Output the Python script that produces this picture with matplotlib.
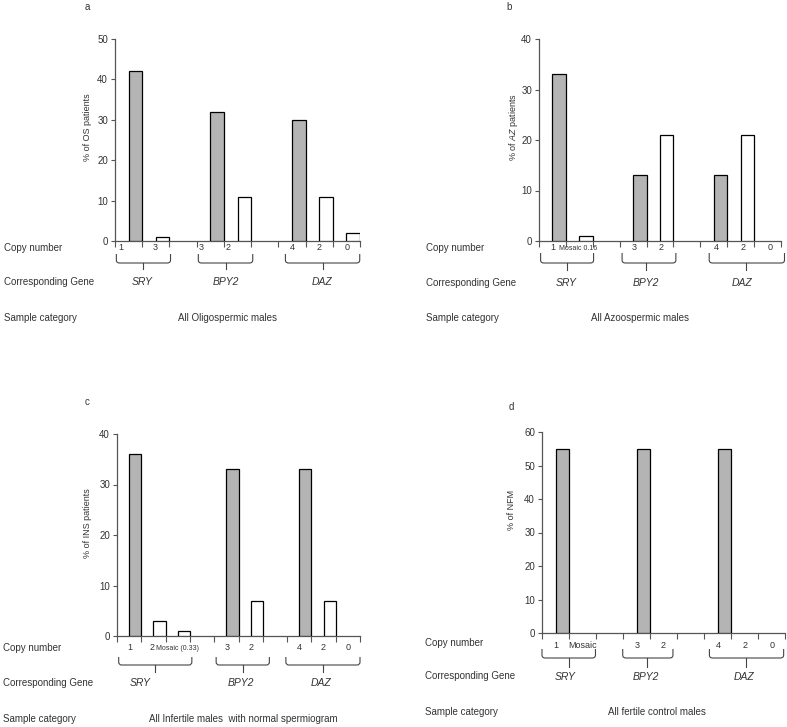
import matplotlib
matplotlib.use("Agg")
import matplotlib.pyplot as plt
from matplotlib.transforms import blended_transform_factory
from matplotlib.path import Path
from matplotlib.patches import PathPatch

plt.rcParams['font.family'] = ['Liberation Sans', 'DejaVu Sans']
plt.rcParams['mathtext.fontset'] = 'custom'
plt.rcParams['mathtext.it'] = 'Liberation Sans:italic'
plt.rcParams['mathtext.rm'] = 'Liberation Sans'

W, H = 787, 727

# ---------------- data ----------------
genes = ['SRY', 'BPY2', 'DAZ']

a_copy = [['1', '3'], ['3', '2'], ['4', '2', '0']]
a_vals = [[42, 1], [32, 11], [30, 11, 2]]

b_copy = [['1', 'Mosaic 0.16'], ['3', '2'], ['4', '2', '0']]
b_vals = [[33, 1], [13, 21], [13, 21, 0]]

c_copy = [['1', '2', 'Mosaic (0.33)'], ['3', '2'], ['4', '2', '0']]
c_vals = [[36, 3, 1], [33, 7], [33, 7, 0]]

d_copy = [['1', 'Mosaic'], ['3', '2'], ['4', '2', '0']]
d_vals = [[55, 0], [55, 0], [55, 0, 0]]

panels = [
    dict(letter='a', copy=a_copy, vals=a_vals, ylim=50, yticks=[0, 10, 20, 30, 40, 50],
         ylabel='% of OS patients', sample='All Oligospermic males'),
    dict(letter='b', copy=b_copy, vals=b_vals, ylim=40, yticks=[0, 10, 20, 30, 40],
         ylabel='% of $\\mathit{AZ}$ patients', sample='All Azoospermic males'),
    dict(letter='c', copy=c_copy, vals=c_vals, ylim=40, yticks=[0, 10, 20, 30, 40],
         ylabel='% of INS patients', sample='All Infertile males  with normal spermiogram'),
    dict(letter='d', copy=d_copy, vals=d_vals, ylim=60, yticks=[0, 10, 20, 30, 40, 50, 60],
         ylabel='% of NFM', sample='All fertile control males'),
]

# ---------------- layout (pixels) ----------------
layout = {
    'a': dict(ax=(115, 360, 39, 241), letter=(87, 7), rowx=4, rowy=(248, 282, 318),
              ylab=(88, 127), sample=(227, 318),
              copyx=[[0.21, 1.48], [3.15, 4.14], [6.5, 7.5, 8.52]], copyy=248,
              brace=[(0.05, 2.04, 1.02), (3.06, 5.06, 4.07), (6.26, 8.99, 7.63)],
              bracey=(254, 263, 269), genex=[0.99, 4.07, 7.62], geney=282),
    'b': dict(ax=(539, 781, 39, 241), letter=(509, 7), rowx=426, rowy=(248, 283, 318),
              ylab=(514, 127), sample=(640, 318),
              copyx=[[0.5, 1.47], [3.55, 4.55], [6.58, 7.58, 8.58]], copyy=248,
              brace=[(0.06, 2.03, 1.03), (3.09, 5.09, 3.99), (6.33, 9.13, 7.71)],
              bracey=(253, 263, 270), genex=[1.02, 3.99, 7.54], geney=283),
    'c': dict(ax=(117, 360, 434, 636), letter=(87, 402), rowx=3, rowy=(648, 683, 719),
              ylab=(88, 523), sample=(243, 719),
              copyx=[[0.52, 1.44, 2.5], [4.52, 5.51], [7.5, 8.49, 9.52]], copyy=648,
              brace=[(0.07, 3.08, 1.58), (4.08, 6.27, 5.18), (6.95, 10.0, 8.47)],
              bracey=(657, 665, 672), genex=[0.96, 5.1, 8.38], geney=683),
    'd': dict(ax=(542, 785, 432, 633), letter=(511, 407), rowx=425, rowy=(643, 676, 712),
              ylab=(511, 510), sample=(657, 712),
              copyx=[[0.52, 1.5], [3.52, 4.5], [6.52, 7.53, 8.52]], copyy=646,
              brace=[(0.0, 1.98, 1.01), (2.99, 4.85, 3.89), (6.2, 8.95, 7.57)],
              bracey=(649, 658, 667), genex=[0.86, 3.86, 7.47], geney=677),
}

GRAY = '#b4b4b4'
AXC = '#555555'
TXT = '#333333'

fig = plt.figure(figsize=(W / 100, H / 100), dpi=100)
fig.patch.set_facecolor('white')


def fy(y):
    return 1 - y / H


def fx(x):
    return x / W


for p in panels:
    L = layout[p['letter']]
    x0, x1, yt, yb = L['ax']
    ax = fig.add_axes([fx(x0), fy(yb), fx(x1) - fx(x0), fy(yt) - fy(yb)])

    # slot positions: each gene group followed by one empty slot (except last)
    slot = 0
    for gi, vals in enumerate(p['vals']):
        for j, v in enumerate(vals):
            if v > 0:
                ax.bar(slot + 0.75, v, width=0.5, color=GRAY if j == 0 else 'white',
                       edgecolor='black', linewidth=0.9, zorder=3)
            slot += 1
        if gi < len(p['vals']) - 1:
            slot += 1
    nslots = slot

    ax.set_xlim(0, nslots)
    ax.set_ylim(0, p['ylim'])
    ax.set_xticks(range(0, nslots + 1))
    ax.set_xticklabels([])
    ax.set_yticks(p['yticks'])
    ax.tick_params(axis='x', direction='out', length=4, width=0.8, color=AXC)
    ax.tick_params(axis='y', direction='out', length=3, width=0.8, color=AXC,
                   labelsize=7, labelcolor=TXT, pad=2)
    for s in ['top', 'right']:
        ax.spines[s].set_visible(False)
    for s in ['left', 'bottom']:
        ax.spines[s].set_color(AXC)
        ax.spines[s].set_linewidth(0.9)
    ax.patch.set_alpha(0)

    tr = blended_transform_factory(ax.transData, fig.transFigure)

    # copy number labels
    for gi, labs in enumerate(p['copy']):
        for j, lab in enumerate(labs):
            fs = 5 if len(lab) > 6 else 6.5
            ax.text(L['copyx'][gi][j], fy(L['copyy']), lab, transform=tr,
                    ha='center', va='center', fontsize=fs, color=TXT)

    # braces
    btop, bbot, btick = L['bracey']
    for (bx0, bx1, bxc) in L['brace']:
        r = 0.12
        verts = [(bx0, fy(btop)), (bx0, fy(bbot) + 0.004), (bx0, fy(bbot)), (bx0 + r, fy(bbot)),
                 (bx1 - r, fy(bbot)), (bx1, fy(bbot)), (bx1, fy(bbot) + 0.004), (bx1, fy(btop))]
        codes = [Path.MOVETO, Path.LINETO, Path.CURVE3, Path.CURVE3,
                 Path.LINETO, Path.CURVE3, Path.CURVE3, Path.LINETO]
        fig.add_artist(PathPatch(Path(verts, codes), transform=tr, fill=False,
                                 edgecolor='#444444', linewidth=0.8, clip_on=False))
        fig.add_artist(plt.Line2D([bxc, bxc], [fy(bbot), fy(btick)], transform=tr,
                                  color='#444444', linewidth=0.8))

    # gene labels
    for gi, g in enumerate(genes):
        ax.text(L['genex'][gi], fy(L['geney']), g, transform=tr, ha='center', va='center',
                fontsize=7.5, style='italic', color=TXT)

    # row labels
    for lab, ry in zip(['Copy number', 'Corresponding Gene', 'Sample category'], L['rowy']):
        fig.text(fx(L['rowx']), fy(ry), lab, ha='left', va='center', fontsize=7, color=TXT)

    # sample category
    fig.text(fx(L['sample'][0]), fy(L['sample'][1]), p['sample'], ha='center', va='center',
             fontsize=7, color=TXT)

    # y label
    fig.text(fx(L['ylab'][0]), fy(L['ylab'][1]), p['ylabel'], rotation=90, ha='center',
             va='center', fontsize=6.5, color=TXT)

    # panel letter
    fig.text(fx(L['letter'][0]), fy(L['letter'][1]), p['letter'], ha='center', va='center',
             fontsize=7, color=TXT)

fig.savefig('out.png', dpi=100, facecolor='white')
